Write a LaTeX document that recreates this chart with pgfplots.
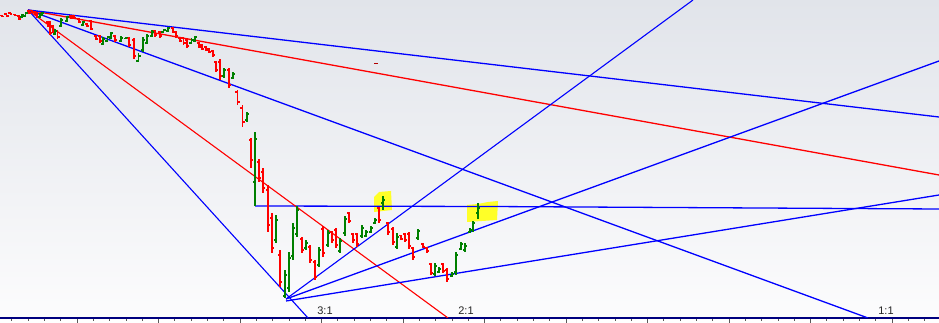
\documentclass[border=0pt]{standalone}
\usepackage{pgfplots}
\usepackage{pgfplotstable}
\pgfplotsset{compat=1.18}
\usepackage{fontspec}
\setmainfont{Liberation Sans}
\definecolor{barred}{RGB}{255,0,0}
\definecolor{bargreen}{RGB}{0,128,0}
\definecolor{fanblue}{RGB}{0,0,255}
\definecolor{fanred}{RGB}{255,0,0}
\definecolor{axnavy}{RGB}{0,0,128}
\definecolor{bgtop}{RGB}{225,228,234}
\definecolor{bgbot}{RGB}{252,252,253}
\definecolor{hiyel}{RGB}{255,255,40}

% OHLC bars in pixel units (y grows downward): x high low open close
\pgfplotstableread{
x hi lo op cl
2 15 17 15.5 16.5
6.5 13 17 14 16
10 12.5 14.5 13 14
15 14 16 14.5 15.5
19 15 20 16 19
29 10 14 11 13
32 10 13 10.5 12.5
35 11 15 12 14
37 12 18 13 17
48 21 27 22 26
50 21 35 23 33
53 25 33 26 31
57.5 30 39 31 37
71 15 19 16 18
74 15 19 16 18
79 18 23 19 22
87 23 27 24 26
91 20 30 21 29
96 35 40 36 39
100 35 43 36 41
115 35 42 36 40
129 37 47 38 45
134 38 59 40 56
155 30 37 31 35
160 31 38 32 36
173 27 33 28 32
176 31 38 32 36
180 37 42 38 41
183.5 37 45 38 43
187 38 48 40 46
199 42 48 43 47
202 44 50 45 49
206 46 51 47 50
209 48 53 49 52
213 50 57 51 55
216 61 72 62 70
220 59 80 62 76
229 68 88 70 85
237.5 90 105 92 102
242.5 105 127 108 122
251 138 168 140 160
259 159 182 162 178
263 168 193 172 188
268 185 232 190 225
272 213 253 218 248
280 250 287 255 282
302 237 253 239 250
310 245 263 247 260
315 260 280 262 277
323 226 257 229 253
332 231 243 232 240
336 228 248 230 245
349 212 223 213 221
353 233 243 234 240
357 233 247 234 244
379 207 223 208 220
388 222 235 223 232
393 227 245 229 242
401 235 240 235.5 239
405 233 242 234 240
409 232 249 234 246
413 247 260 248 257
423 243 248 244 247
427 247 253 248 251
431 263 275 264 273
443 263 273 264 271
447 268 282 270 279
}\redbars

\pgfplotstableread{
x hi lo op cl
22 14 18 17 15
25.5 12 17 16 13
40 13 18 17 14
42 12 16 15 13
55 29 35 34 31
61 18 27 26 20
67 16 22 21 17
83 21 26 25 22
103 37 45 44 39
107.5 36 42 41 37
111 32 39 38 33
121 36 42 41 38
126 37 39 38.5 37.5
138.5 53 62 61 56
143 37 52 50 40
147 34 44 43 36
152 30 37 36 32
163.5 29 33 32 30
168 27 32 31 28
191.5 38 44 43 40
195 36 42 41 37
224 68 78 76 70
233 72 79 78 74
247 112 122 120 114
255 132 206 182 139
276 215 243 240 220
285 270 298 296 275
289 252 292 288 258
293 223 260 256 228
297 206 237 234 210
306 240 250 248 243
319 247 267 265 250
328 230 247 245 233
340 238 253 251 241
345 216 236 233 219
362 225 238 236 228
366 230 237 236 232
371 226 233 232 228
375 218 224 223 220
383 196 210 203 200
397 233 249 247 237
418 229 240 238 231
435 263 276 274 266
439 267 273 272 269
452 272 277 276 274
456 252 275 272 255
461 242 250 249 244
465 243 252 250 246
470 228 233 232 230
473 221 232 230 223
478 203 219 213 208
}\greenbars

\pgfplotsset{
  ohlc/.style={draw=none, mark=none, forget plot,
    /pgfplots/error bars/error mark=none,
    /pgfplots/error bars/error bar style={draw=#1, solid, line width=1.35pt, line cap=butt}},
}

\begin{document}
\begin{tikzpicture}
\begin{axis}[
  scale only axis, width=939pt, height=318pt,
  xmin=0, xmax=939, ymin=-318, ymax=0,
  y filter/.expression={-y},
  axis x line*=bottom, axis y line=none,
  axis line style={draw=axnavy, line width=1.6pt},
  xtick={-4.5,77,158.5,240,321.5,403,484.5,566,647.5,729,810.5,892,973.5},
  minor x tick num=4,
  xticklabels={}, tick align=outside,
  major tick length=5pt, minor tick length=3pt,
  every tick/.style={draw=black!65, line width=0.8pt},
  axis background/.style={top color=bgtop, bottom color=bgbot},
  clip=true,
]
% yellow highlights
\addplot[fill=hiyel, draw=none, forget plot] coordinates {(374,197) (379,192) (391,191) (392,210) (374,212)} -- cycle;
\addplot[fill=hiyel, draw=none, forget plot] coordinates {(467,205) (478,204) (488,202) (498,201) (497,220) (467,222)} -- cycle;

% horizontal line
\addplot[fanblue, line width=1.3pt] coordinates {(255,206) (490,206.5) (939,209)};

% fan from top
\addplot[fanblue, line width=1.1pt] coordinates {(28,10) (308,318)};
\addplot[fanred, line width=1.1pt] coordinates {(28,10) (448,318)};
\addplot[fanblue, line width=1.3pt] coordinates {(28,10) (868,318)};
\addplot[fanred, line width=1.3pt] coordinates {(28,10) (939,175)};
\addplot[fanblue, line width=1.3pt] coordinates {(28,10) (939,117)};

% fan from low
\addplot[fanblue, line width=1.1pt] coordinates {(286,299) (693,0)};
\addplot[fanblue, line width=1.3pt] coordinates {(286,299) (939,61)};
\addplot[fanblue, line width=1.3pt] coordinates {(286,301) (939,195)};

% small dash
\addplot[fanred!70!black, line width=0.8pt] coordinates {(374,63) (378,63)};

% red bars
\addplot[ohlc=barred, error bars/.cd, y dir=both, y explicit]
  table[x=x, y expr={(\thisrow{hi}+\thisrow{lo})/2}, y error expr={(\thisrow{lo}-\thisrow{hi})/2}] {\redbars};
\addplot[ohlc=barred, error bars/.cd, x dir=minus, x fixed=2.4]
  table[x=x, y=op] {\redbars};
\addplot[ohlc=barred, error bars/.cd, x dir=plus, x fixed=2.4]
  table[x=x, y=cl] {\redbars};

% green bars
\addplot[ohlc=bargreen, error bars/.cd, y dir=both, y explicit]
  table[x=x, y expr={(\thisrow{hi}+\thisrow{lo})/2}, y error expr={(\thisrow{lo}-\thisrow{hi})/2}] {\greenbars};
\addplot[ohlc=bargreen, error bars/.cd, x dir=minus, x fixed=2.4]
  table[x=x, y=op] {\greenbars};
\addplot[ohlc=bargreen, error bars/.cd, x dir=plus, x fixed=2.4]
  table[x=x, y=cl] {\greenbars};

% ratio labels
\node[font=\fontsize{11}{13}\selectfont, text=black!85, inner sep=0pt] at (axis cs:325,-311) {3:1};
\node[font=\fontsize{11}{13}\selectfont, text=black!85, inner sep=0pt] at (axis cs:466,-311) {2:1};
\node[font=\fontsize{11}{13}\selectfont, text=black!85, inner sep=0pt] at (axis cs:886,-311) {1:1};
\end{axis}
\pgfresetboundingbox
\useasboundingbox (0,-5pt) rectangle (939pt,318pt);
\end{tikzpicture}
\end{document}
